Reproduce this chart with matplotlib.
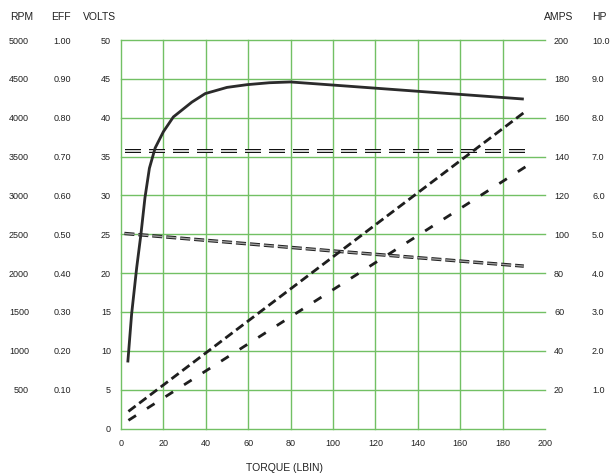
import matplotlib
matplotlib.use("Agg")
import matplotlib.pyplot as plt

plt.rcParams['font.family'] = ['Liberation Sans', 'DejaVu Sans']
plt.rcParams['lines.scale_dashes'] = False

# data
eff_torque = [3.2, 5.0, 7.4, 9.4, 11.3, 13.4, 16.1, 20, 24.7, 33.4, 39.7, 50,
              59.4, 70, 79.9, 100, 120, 140, 160, 180, 190]
eff_values = [0.170, 0.294, 0.414, 0.500, 0.594, 0.670, 0.722, 0.764, 0.802,
              0.840, 0.862, 0.878, 0.885, 0.890, 0.892, 0.884, 0.876, 0.868,
              0.860, 0.852, 0.848]

volts_torque = [2, 194]
volts_values = [35.7, 35.7]

rpm_torque = [1.6, 100, 190]
rpm_values = [2510, 2285, 2090]

amps_torque = [3.5, 190.5]
amps_values = [8.8, 163]

hp_torque = [3.5, 191.5]
hp_values = [0.21, 6.76]

x_ticks = list(range(0, 201, 20))
grid_x = list(range(0, 181, 20))
volt_ticks = list(range(0, 51, 5))
rpm_ticks = list(range(500, 5001, 500))
eff_ticks = [i / 10 for i in range(1, 11)]
amps_ticks = list(range(20, 201, 20))
hp_ticks = [float(i) for i in range(1, 11)]

txt = '#222222'
green = '#72c064'
px = 0.72  # points per pixel at dpi 100

fig = plt.figure(figsize=(6.11, 4.76), dpi=100)
ax = fig.add_axes([121 / 611, 1 - 428.5 / 476, 424 / 611, 388.5 / 476])
ax.set_xlim(0, 200)
ax.set_ylim(0, 50)
for s in ax.spines.values():
    s.set_visible(False)

# green grid
for gx in grid_x:
    ax.axvline(gx, color=green, lw=1.0, zorder=0, clip_on=False)
for gy in volt_ticks:
    ax.axhline(gy, color=green, lw=1.0, zorder=0, clip_on=False)

ax.set_xticks(x_ticks)
ax.set_xticklabels([str(v) for v in x_ticks])
ax.set_yticks(volt_ticks)
ax.set_yticklabels([str(v) for v in volt_ticks])
ax.tick_params(axis='both', length=0, labelsize=6.5, colors=txt)
ax.tick_params(axis='y', pad=10 * px)
ax.tick_params(axis='x', pad=10 * px)

# volts: double dashed line
ax.plot(volts_torque, volts_values, color='#111111', lw=4 * px,
        dashes=(16 * px, 8 * px), dash_capstyle='butt')
ax.plot(volts_torque, volts_values, color='white', lw=1.6 * px,
        dashes=(16 * px, 8 * px), dash_capstyle='butt')


def side_axis(ylim, ticks, labels, side, offset_px, pad_px):
    a = ax.twinx()
    a.set_ylim(*ylim)
    for s in a.spines.values():
        s.set_visible(False)
    if side == 'left':
        a.yaxis.set_ticks_position('left')
    a.spines[side].set_position(('outward', offset_px * px))
    a.set_yticks(ticks)
    a.set_yticklabels(labels)
    a.tick_params(axis='y', length=0, pad=pad_px * px, labelsize=6.5,
                  colors=txt)
    return a


ax_rpm = side_axis((0, 5000), rpm_ticks, [str(v) for v in rpm_ticks],
                   'left', 92, 0)
ax_eff = side_axis((0, 1), eff_ticks, ['%.2f' % v for v in eff_ticks],
                   'left', 50, 0)
ax_amps = side_axis((0, 200), amps_ticks, [str(v) for v in amps_ticks],
                    'right', 0, 9)
ax_hp = side_axis((0, 10), hp_ticks, ['%.1f' % v for v in hp_ticks],
                  'right', 47, 0)

# rpm: thick gray dashed line
ax_rpm.plot(rpm_torque, rpm_values, color='#222222', lw=3.4 * px,
            dashes=(10 * px, 4 * px), dash_capstyle='butt')
ax_rpm.plot(rpm_torque, rpm_values, color='#a0a0a0', lw=1.4 * px,
            dashes=(10 * px, 4 * px), dash_capstyle='butt')

# efficiency: solid curve
ax_eff.plot(eff_torque, eff_values, color='#2b2b2b', lw=2.8 * px,
            solid_capstyle='butt')

# amps and hp: short dashes
ax_amps.plot(amps_torque, amps_values, color='#1e1e1e', lw=2.8 * px,
             dashes=(9 * px, 4.5 * px), dash_capstyle='butt')
ax_hp.plot(hp_torque, hp_values, color='#1e1e1e', lw=2.8 * px,
           dashes=(9 * px, 13 * px), dash_capstyle='butt')

# column headers and axis title
for label, xc in [('RPM', 21.5), ('EFF', 60.5), ('VOLTS', 99.5),
                  ('AMPS', 558.5), ('HP', 599)]:
    fig.text(xc / 611, 1 - 17 / 476, label, ha='center', va='center',
             fontsize=7.5, color=txt)
fig.text(284 / 611, 1 - 468 / 476, 'TORQUE (LBIN)', ha='center',
         va='center', fontsize=7.5, color=txt)

fig.savefig('out.png', dpi=100)
